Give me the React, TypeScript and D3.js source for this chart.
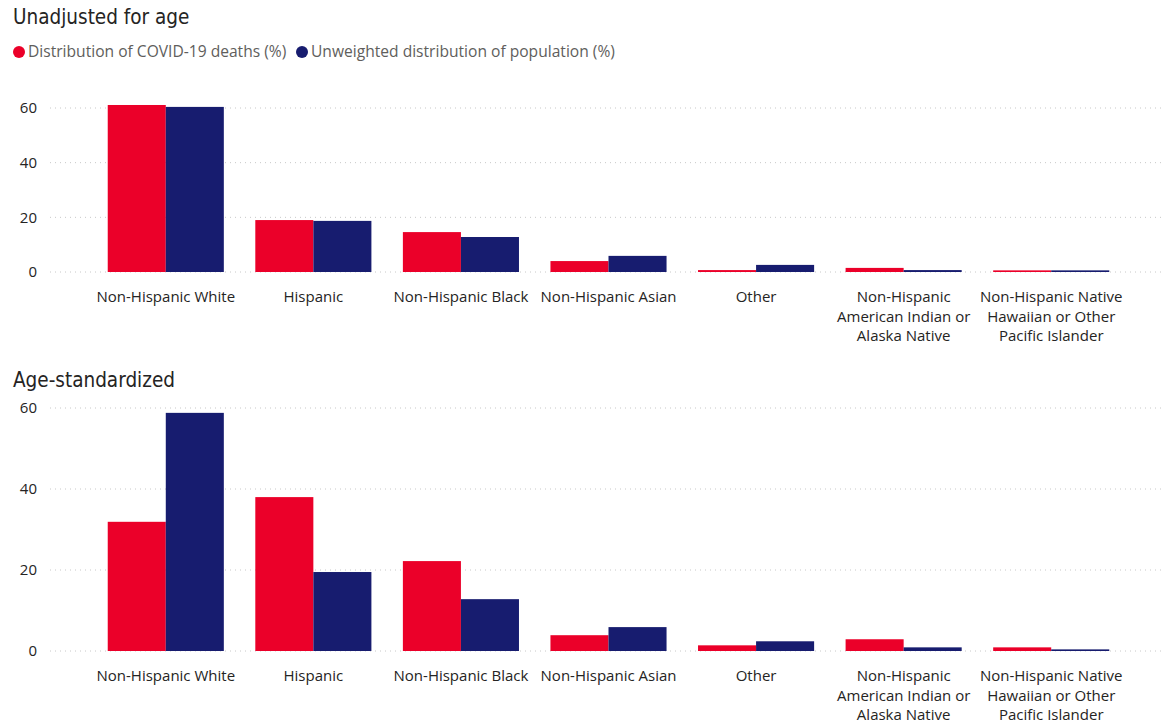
import React from 'react';
import * as d3 from 'd3';

const categories = [
  'Non-Hispanic White',
  'Hispanic',
  'Non-Hispanic Black',
  'Non-Hispanic Asian',
  'Other',
  'Non-Hispanic American Indian or Alaska Native',
  'Non-Hispanic Native Hawaiian or Other Pacific Islander',
];
const categoryLines = [
  ['Non-Hispanic White'],
  ['Hispanic'],
  ['Non-Hispanic Black'],
  ['Non-Hispanic Asian'],
  ['Other'],
  ['Non-Hispanic', 'American Indian or', 'Alaska Native'],
  ['Non-Hispanic Native', 'Hawaiian or Other', 'Pacific Islander'],
];
const seriesNames = ['Distribution of COVID-19 deaths (%)', 'Unweighted distribution of population (%)'];
const seriesColors = ['#EB0029', '#171C6F'];

const unadjustedDeaths = [61.1, 19.0, 14.6, 4.0, 0.7, 1.5, 0.6];
const unadjustedPop = [60.4, 18.7, 12.8, 5.9, 2.6, 0.7, 0.6];
const ageStdDeaths = [31.9, 38.0, 22.2, 3.9, 1.4, 2.9, 0.9];
const ageStdPop = [58.8, 19.5, 12.8, 5.9, 2.4, 0.9, 0.4];
const yTicks = [0, 20, 40, 60];

interface PanelProps {
  title: string;
  titleY: number;
  top: number; // y for value 60
  bottom: number; // y for value 0
  deaths: number[];
  pop: number[];
}

const x = d3.scaleBand<string>()
  .domain(categories)
  .range([92, 1125])
  .paddingInner(0.2133)
  .paddingOuter(0.1066);
const sub = d3.scaleBand<number>().domain([0, 1]).range([0, x.bandwidth()]);

function Panel({ title, titleY, top, bottom, deaths, pop }: PanelProps) {
  const y = d3.scaleLinear().domain([0, 60]).range([bottom, top]);
  const series = [deaths, pop];
  return (
    <g>
      <text x={13} y={titleY} fontFamily="'DejaVu Sans Condensed', 'DejaVu Sans', sans-serif" fontSize={20.5} fill="#252423">
        {title}
      </text>
      {yTicks.map((t) => (
        <g key={t}>
          <line x1={50} x2={1163} y1={y(t)} y2={y(t)} stroke="#C8C8C8" strokeWidth={1} strokeDasharray="1,4" />
          <text x={37} y={y(t)} dy="0.35em" textAnchor="end" fontFamily="'Open Sans', sans-serif" fontSize={15} fill="#252423">
            {t}
          </text>
        </g>
      ))}
      {categories.map((c, i) => (
        <g key={c} transform={`translate(${x(c)},0)`}>
          {series.map((s, j) => (
            <rect
              key={j}
              x={sub(j)}
              width={sub.bandwidth()}
              y={y(s[i])}
              height={y(0) - y(s[i])}
              fill={seriesColors[j]}
            />
          ))}
          {categoryLines[i].map((line, k) => (
            <text
              key={k}
              x={x.bandwidth() / 2}
              y={bottom + 30 + k * 19.5}
              textAnchor="middle"
              fontFamily="'Open Sans', sans-serif"
              fontSize={15}
              fill="#252423"
            >
              {line}
            </text>
          ))}
        </g>
      ))}
    </g>
  );
}

export default function App() {
  const legendX = [19, 302];
  return (
    <svg width={1163} height={723} style={{ position: 'absolute', left: 0, top: 0, background: '#fff' }}>
      <Panel title="Unadjusted for age" titleY={24} top={108} bottom={272} deaths={unadjustedDeaths} pop={unadjustedPop} />
      {seriesNames.map((n, i) => (
        <g key={n} transform={`translate(${legendX[i]},52)`}>
          <circle r={6} fill={seriesColors[i]} />
          <text x={9} dy="0.35em" fontFamily="'Open Sans', sans-serif" fontSize={15.6} fill="#605E5C">
            {n}
          </text>
        </g>
      ))}
      <Panel title="Age-standardized" titleY={387} top={408} bottom={651} deaths={ageStdDeaths} pop={ageStdPop} />
    </svg>
  );
}
